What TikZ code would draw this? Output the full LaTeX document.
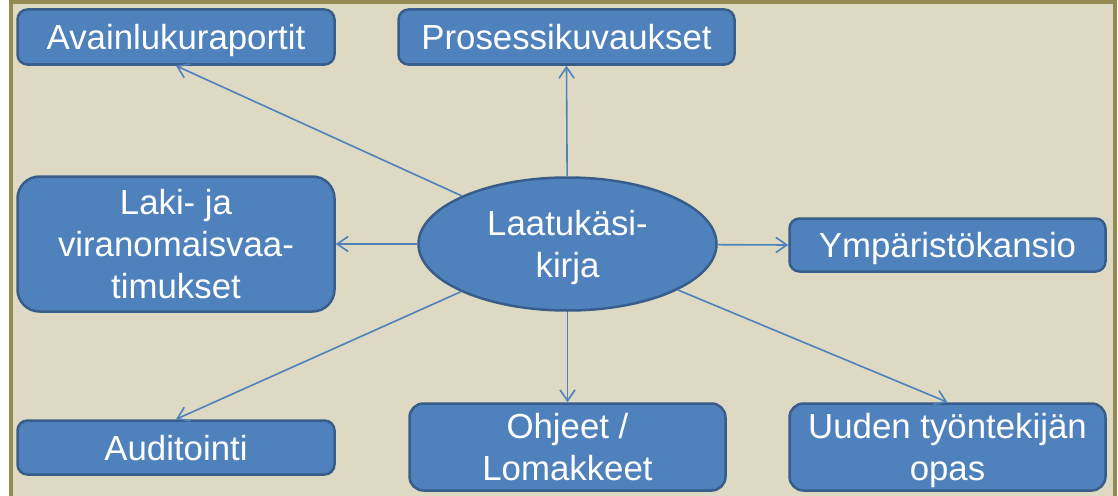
\documentclass[tikz,border=0pt]{standalone}
\usepackage{fontspec}
\setmainfont{Liberation Sans}
\usetikzlibrary{arrows.meta,shapes.geometric}

\definecolor{framefill}{HTML}{DDD9C3}
\definecolor{frameline}{HTML}{948A54}
\definecolor{boxfill}{HTML}{4F81BD}
\definecolor{boxline}{HTML}{385D8A}
\definecolor{linkcol}{HTML}{4F81BD}

\newcommand\boxfont{\fontsize{34.8}{42}\selectfont}

\tikzset{
  topicbox/.style={draw=boxline, fill=boxfill, line width=2.5pt, text=white,
    font=\boxfont, align=center, inner sep=0pt, text depth=0pt},
  hub/.style={topicbox, ellipse},
  link/.style={draw=linkcol, line width=1.6pt,
    -{Straight Barb[length=11pt,width=15pt]}}
}

\begin{document}
\begin{tikzpicture}[x=1pt,y=-1pt]
  \useasboundingbox (0,0) rectangle (1118,495);
  \clip (0,0) rectangle (1118,495);

  % background panel
  \draw[line width=3.6pt, draw=frameline, fill=framefill]
    (10.8,2) rectangle (1115,520);

  % central topic
  \node[hub, minimum width=298pt, minimum height=133pt] (hub) at (567.5,244)
    {Laatukäsi-\\kirja};

  % surrounding topics
  \node[topicbox, rounded corners=10pt, minimum width=317pt, minimum height=55pt]
    (avain) at (176,37) {Avainlukuraportit};
  \node[topicbox, rounded corners=10pt, minimum width=336pt, minimum height=55pt]
    (prosessi) at (566.5,37) {Prosessikuvaukset};
  \node[topicbox, rounded corners=22pt, minimum width=317pt, minimum height=135pt]
    (laki) at (176,244) {Laki- ja\\viranomaisvaa-\\timukset};
  \node[topicbox, rounded corners=10pt, minimum width=316pt, minimum height=53pt]
    (ymparisto) at (947.5,245) {Ympäristökansio};
  \node[topicbox, rounded corners=10pt, minimum width=317pt, minimum height=54pt]
    (audit) at (176,447.5) {Auditointi};
  \node[topicbox, rounded corners=14pt, minimum width=316pt, minimum height=87pt]
    (ohjeet) at (567.5,447) {Ohjeet /\\Lomakkeet};
  \node[topicbox, rounded corners=14pt, minimum width=316pt, minimum height=87pt]
    (uusi) at (947.5,447) {Uuden työntekijän\\opas};

  % connectors from the central topic
  \draw[link] (hub) -- (avain.south);
  \draw[link] (hub) -- (prosessi.south);
  \draw[link] (hub) -- (laki.east);
  \draw[link] (hub) -- (ymparisto.west);
  \draw[link] (hub) -- (audit.north);
  \draw[link] (hub) -- (ohjeet.north);
  \draw[link] (hub) -- (uusi.north);
\end{tikzpicture}
\end{document}
